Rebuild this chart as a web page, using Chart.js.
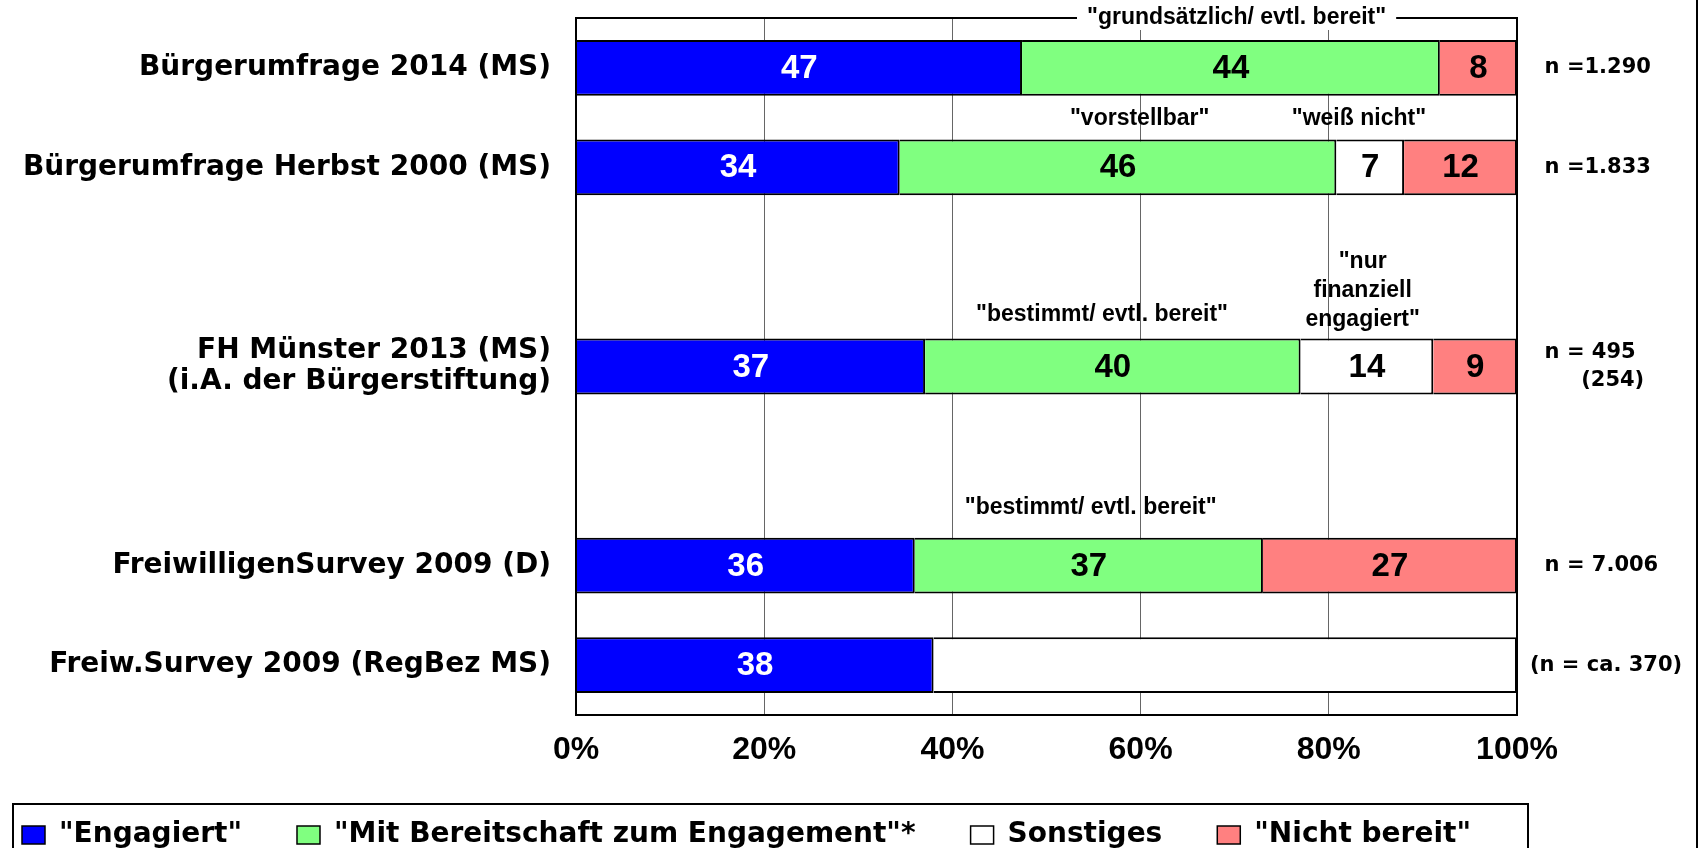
<!DOCTYPE html>
<html>
<head>
<meta charset="utf-8">
<script src="https://cdn.jsdelivr.net/npm/chart.js@4.4.1/dist/chart.umd.min.js"></script>
<style>
  html, body { margin: 0; padding: 0; background: #fff; }
  canvas { display: block; }
</style>
</head>
<body>
<canvas id="chart" width="1702" height="848"></canvas>
<script>
// Survey rows (empty slots keep the gaps between the groups)
const categories = [
  'Bürgerumfrage 2014 (MS)',
  'Bürgerumfrage Herbst 2000 (MS)',
  '',
  ['FH Münster 2013 (MS)', '(i.A. der Bürgerstiftung)'],
  '',
  'FreiwilligenSurvey 2009 (D)',
  'Freiw.Survey 2009 (RegBez MS)'
];
const sampleSizes = ['  n =1.290', '  n =1.833', '', ['  n = 495', '       (254)'], '', '  n = 7.006', '(n = ca. 370)'];

// shares in percent
const engagiert    = [47.4, 34.4, null, 37.1, null, 36, 38];
const bereitschaft = [44.4, 46.4, null, 39.9, null, 37, null];
const sonstiges    = [null, 7.2, null, 14.1, null, null, null];
const nichtBereit  = [8.2, 12.0, null, 8.9, null, 27, null];
const ohneAngabe   = [null, null, null, null, null, null, 62];

const xTicks = [0, 20, 40, 60, 80, 100];

// text notes above the bars: [text lines, x in %, row position]
const notes = [
  [['"grundsätzlich/ evtl. bereit"'], 70.2, -0.5, true],
  [['"vorstellbar"'], 59.9, 0.51],
  [['"weiß nicht"'], 83.2, 0.51],
  [['"nur', 'finanziell', 'engagiert"'], 83.6, 2.24],
  [['"bestimmt/ evtl. bereit"'], 55.9, 2.48],
  [['"bestimmt/ evtl. bereit"'], 54.7, 4.42]
];

const PLOT_BOTTOM = 715;
const LEFT_SHIFT = 33;
const BOTTOM_PAD = -11;
const barBorder = { top: 2, bottom: 2, left: 0, right: 2 };

function ds(label, data, color) {
  return {
    label, data,
    backgroundColor: color,
    borderColor: '#000',
    borderWidth: barBorder,
    borderSkipped: false,
    barPercentage: 0.56,
    categoryPercentage: 1
  };
}

const overlay = {
  id: 'overlay',
  afterDatasetsDraw(chart) {
    const { ctx, chartArea: a } = chart;
    ctx.save();
    // plot frame
    ctx.strokeStyle = '#000';
    ctx.lineWidth = 2;
    ctx.strokeRect(a.left, a.top, a.right - a.left, a.bottom - a.top);

    // values inside the bars
    ctx.font = 'bold 33px "Liberation Sans", Arial, sans-serif';
    ctx.textAlign = 'center';
    ctx.textBaseline = 'middle';
    chart.data.datasets.forEach((d, i) => {
      if (d.noLabel) return;
      chart.getDatasetMeta(i).data.forEach((bar, j) => {
        const v = d.data[j];
        if (v == null) return;
        const c = bar.getCenterPoint();
        ctx.fillStyle = i === 0 ? '#fff' : '#000';
        ctx.fillText(String(Math.round(v)), c.x, c.y + 1);
      });
    });
    ctx.restore();
  },
  afterDraw(chart) {
    const { ctx } = chart;
    const xs = chart.scales.x, ys = chart.scales.y;
    ctx.save();
    ctx.font = 'bold 23px "Liberation Sans", Arial, sans-serif';
    ctx.textAlign = 'center';
    ctx.textBaseline = 'middle';
    notes.forEach(([lines, xv, yv, boxed]) => {
      const x = xs.getPixelForValue(xv);
      const y = ys.getPixelForValue(yv);
      const lh = 29;
      if (boxed) {
        const w = ctx.measureText(lines[0]).width + 20;
        ctx.fillStyle = '#fff';
        ctx.fillRect(x - w / 2, y - 12, w, 24);
      }
      ctx.fillStyle = '#000';
      lines.forEach((t, k) => ctx.fillText(t, x, y + (k - (lines.length - 1) / 2) * lh));
    });

    // outer frame pieces
    ctx.strokeStyle = '#000';
    ctx.lineWidth = 2;
    ctx.beginPath();
    ctx.moveTo(1697, 0);
    ctx.lineTo(1697, chart.height);
    ctx.stroke();
    ctx.strokeRect(13, 804, 1515, 60);
    ctx.restore();
  }
};

new Chart(document.getElementById('chart'), {
  type: 'bar',
  data: {
    labels: categories,
    datasets: [
      ds('"Engagiert"', engagiert, '#0000FF'),
      ds('"Mit Bereitschaft zum Engagement"*', bereitschaft, '#80FF80'),
      ds('Sonstiges', sonstiges, '#FFFFFF'),
      ds('"Nicht bereit"', nichtBereit, '#FF8080'),
      Object.assign(ds('ohne Angabe', ohneAngabe, '#FFFFFF'), { noLabel: true })
    ]
  },
  options: {
    indexAxis: 'y',
    responsive: false,
    animation: false,
    layout: { padding: { top: 18, right: 0, bottom: BOTTOM_PAD, left: -LEFT_SHIFT } },
    scales: {
      x: {
        stacked: true,
        min: 0, max: 100,
        afterBuildTicks: s => { s.ticks = xTicks.map(v => ({ value: v })); },
        afterFit: s => { s.height = s.chart.height - BOTTOM_PAD - s.chart.legend.height - PLOT_BOTTOM; },
        grid: { color: '#666', lineWidth: 1, drawTicks: false },
        border: { display: false },
        ticks: {
          padding: 16,
          color: '#000',
          font: { family: '"Liberation Sans", Arial, sans-serif', size: 32, weight: 'bold' },
          callback: v => v + '%'
        }
      },
      y: {
        stacked: true,
        afterFit: s => { s.width = 576 + LEFT_SHIFT; s.paddingTop = 0; s.paddingBottom = 0; },
        grid: { display: false, drawTicks: false },
        border: { display: false },
        ticks: {
          padding: 25,
          color: '#000',
          font: { family: '"DejaVu Sans", Verdana, sans-serif', size: 28, weight: 'bold', lineHeight: 1.12 }
        }
      },
      y2: {
        type: 'category',
        position: 'right',
        labels: sampleSizes,
        offset: true,
        afterFit: s => { s.width = 185; s.paddingTop = 0; s.paddingBottom = 0; },
        grid: { display: false, drawTicks: false },
        border: { display: false },
        ticks: {
          padding: 13,
          color: '#000',
          font: { family: '"DejaVu Sans", Verdana, sans-serif', size: 21, weight: 'bold', lineHeight: 1.3 }
        }
      }
    },
    plugins: {
      tooltip: { enabled: false },
      legend: {
        position: 'bottom',
        align: 'start',
        labels: {
          boxWidth: 23,
          boxHeight: 18,
          padding: 55,
          color: '#000',
          font: { family: '"DejaVu Sans", Verdana, sans-serif', size: 28, weight: 'bold' },
          filter: item => item.text !== 'ohne Angabe'
        }
      }
    }
  },
  plugins: [overlay]
});
</script>
</body>
</html>
